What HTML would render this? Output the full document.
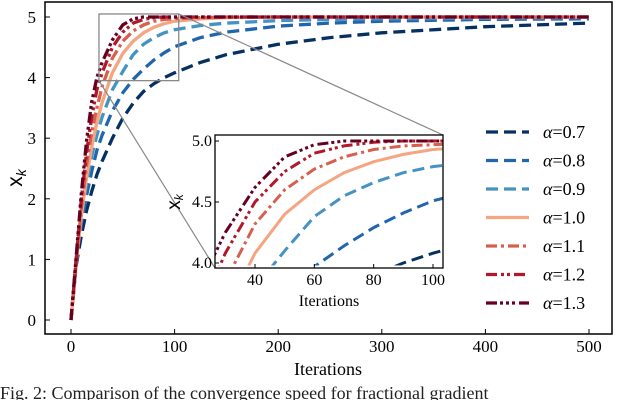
<!DOCTYPE html>
<html><head><meta charset="utf-8"><style>
body{margin:0;background:#fff;overflow:hidden}
svg{display:block;font-family:"Liberation Serif",serif}
</style></head><body>
<svg id="chart" width="640" height="400" viewBox="0 0 640 400">
<g id="main"></g>
<g id="inset"></g>
<g id="legend"></g>
<text x="0" y="399" font-size="18" fill="#222">Fig. 2: Comparison of the convergence speed for fractional gradient</text>
</svg>
<script>
const iterations=[0,5,10,15,20,25,30,40,50,60,70,80,90,100,125,150,200,250,300,400,500];
const alphaLabels=["0.7","0.8","0.9","1.0","1.1","1.2","1.3"];
const s07=[0,0.9,1.4,1.8,2.12,2.4,2.62,3.0,3.33,3.58,3.77,3.9,4.0,4.08,4.25,4.38,4.55,4.66,4.74,4.84,4.9];
const s08=[0,1.0,1.6,2.05,2.45,2.8,3.05,3.45,3.75,3.97,4.14,4.29,4.41,4.51,4.66,4.75,4.85,4.9,4.93,4.96,4.97];
const s09=[0,1.0,1.7,2.25,2.7,3.05,3.35,3.8,4.1,4.38,4.55,4.66,4.74,4.79,4.86,4.9,4.94,4.96,4.97,4.98,4.99];
const s10=[0,0.95,1.73,2.35,2.85,3.26,3.59,4.08,4.4,4.6,4.74,4.83,4.89,4.93,4.97,4.99,5,5,5,5,5];
const s11=[0,0.95,1.85,2.55,3.1,3.5,3.85,4.32,4.6,4.77,4.87,4.93,4.96,4.97,4.99,5,5,5,5,5,5];
const s12=[0,1.0,2.0,2.75,3.35,3.8,4.08,4.5,4.75,4.9,4.96,4.99,5,5,5,5,5,5,5,5,5];
const s13=[0,1.05,2.1,2.95,3.6,4.0,4.25,4.62,4.87,4.97,5,5,5,5,5,5,5,5,5,5,5];
const xTicks=[0,100,200,300,400,500];
const yTicks=[0,1,2,3,4,5];
const insetXTicks=[40,60,80,100];
const insetYTicks=[4.0,4.5,5.0];
const series=[s07,s08,s09,s10,s11,s12,s13];
const colors=["#053061","#2166ac","#4393c3","#f4a582","#d6604d","#b2182b","#67001f"];
const dashes=["12,6","12,6","12,6","","11,4,3,4","11,4,3,3,3,4","11,3,3,3,3,3,3,4"];
const NS="http://www.w3.org/2000/svg";
function el(p,t,a){const e=document.createElementNS(NS,t);for(const k in a)e.setAttribute(k,a[k]);p.appendChild(e);return e;}
const mx=v=>71+v*(589-71)/500, my=v=>320-v*(320-17)/5;
const ix=v=>255+(v-40)*(433-255)/60, iy=v=>263-(v-4)*(263-141);
const main=document.getElementById('main');
const inset=document.getElementById('inset');
const legend=document.getElementById('legend');
const defs=el(document.getElementById('chart'),'defs',{});
const c1=el(defs,'clipPath',{id:'c1'});el(c1,'rect',{x:45,y:2,width:567,height:332});
const c2=el(defs,'clipPath',{id:'c2'});el(c2,'rect',{x:215,y:135,width:228,height:133});
const mg=el(main,'g',{'clip-path':'url(#c1)'});
series.forEach((s,i)=>{
  const pts=s.map((v,j)=>mx(iterations[j]).toFixed(1)+','+my(v).toFixed(1)).join(' ');
  const l=el(mg,'polyline',{points:pts,fill:'none',stroke:colors[i],'stroke-width':3.3,'stroke-dasharray':dashes[i]});
  
  
});
const fr=el(main,'rect',{x:45,y:2,width:567,height:332,fill:'none',stroke:'#000','stroke-width':1.5});

xTicks.forEach(t=>{el(main,'line',{x1:mx(t),x2:mx(t),y1:334,y2:329,stroke:'#000'});
  const tx=el(main,'text',{x:mx(t),y:352,'font-size':17,'text-anchor':'middle'});tx.textContent=t;
  });
yTicks.forEach(t=>{el(main,'line',{x1:45,x2:50,y1:my(t),y2:my(t),stroke:'#000'});
  const tx=el(main,'text',{x:36,y:my(t)+6,'font-size':17,'text-anchor':'end'});tx.textContent=t;
  });
const xt=el(main,'text',{x:328,y:375,'font-size':18,'text-anchor':'middle'});xt.textContent='Iterations';

const yt=el(main,'text',{x:22,y:178,'font-size':21,'font-family':'Liberation Sans, sans-serif','text-anchor':'middle',transform:'rotate(-90 22 178)'});
yt.innerHTML='x<tspan font-size="14" dy="4" font-style="italic">k</tspan>';

const zr=el(main,'rect',{x:mx(27),y:my(5.05),width:mx(104)-mx(27),height:my(3.95)-my(5.05),fill:'none',stroke:'#888','stroke-width':1.3});

el(main,'line',{x1:mx(104),y1:my(5.05),x2:443,y2:135,stroke:'#888','stroke-width':1.2});
el(main,'line',{x1:mx(27),y1:my(3.95),x2:215,y2:268,stroke:'#888','stroke-width':1.2});
el(inset,'rect',{x:215,y:135,width:228,height:133,fill:'#fff'});
const ig=el(inset,'g',{'clip-path':'url(#c2)'});
series.forEach((s,i)=>{
  const pts=s.map((v,j)=>ix(iterations[j]).toFixed(1)+','+iy(v).toFixed(1)).join(' ');
  const l=el(ig,'polyline',{points:pts,fill:'none',stroke:colors[i],'stroke-width':3,'stroke-dasharray':dashes[i]});
  
  
});
el(inset,'rect',{x:216,y:iy(3.98),width:226,height:268-iy(3.98),fill:'#fff'});
el(inset,'rect',{x:215,y:135,width:228,height:133,fill:'none',stroke:'#000','stroke-width':1.3});
insetXTicks.forEach(t=>{el(inset,'line',{x1:ix(t),x2:ix(t),y1:268,y2:264,stroke:'#000'});
  const tx=el(inset,'text',{x:ix(t),y:285,'font-size':16,'text-anchor':'middle'});tx.textContent=t;
  });
insetYTicks.forEach(t=>{el(inset,'line',{x1:215,x2:219,y1:iy(t),y2:iy(t),stroke:'#000'});
  const tx=el(inset,'text',{x:212,y:iy(t)+5,'font-size':16,'text-anchor':'end'});tx.textContent=t.toFixed(1);
  });
const ixt=el(inset,'text',{x:329,y:306,'font-size':16,'text-anchor':'middle'});ixt.textContent='Iterations';

const iyt=el(inset,'text',{x:180,y:202,'font-size':19,'font-family':'Liberation Sans, sans-serif','text-anchor':'middle',transform:'rotate(-90 180 202)'});
iyt.innerHTML='x<tspan font-size="12" dy="3" font-style="italic">k</tspan>';

alphaLabels.forEach((a,i)=>{
  const y=132+i*28.5;
  const g=el(legend,'g',{});
  
  
  el(g,'line',{x1:486,x2:529,y1:y,y2:y,stroke:colors[i],'stroke-width':3.3,'stroke-dasharray':dashes[i]});
  const t=el(g,'text',{x:543,y:y+6,'font-size':18});
  t.innerHTML='<tspan font-style="italic">α</tspan>='+a;
});
</script>
</body></html>
